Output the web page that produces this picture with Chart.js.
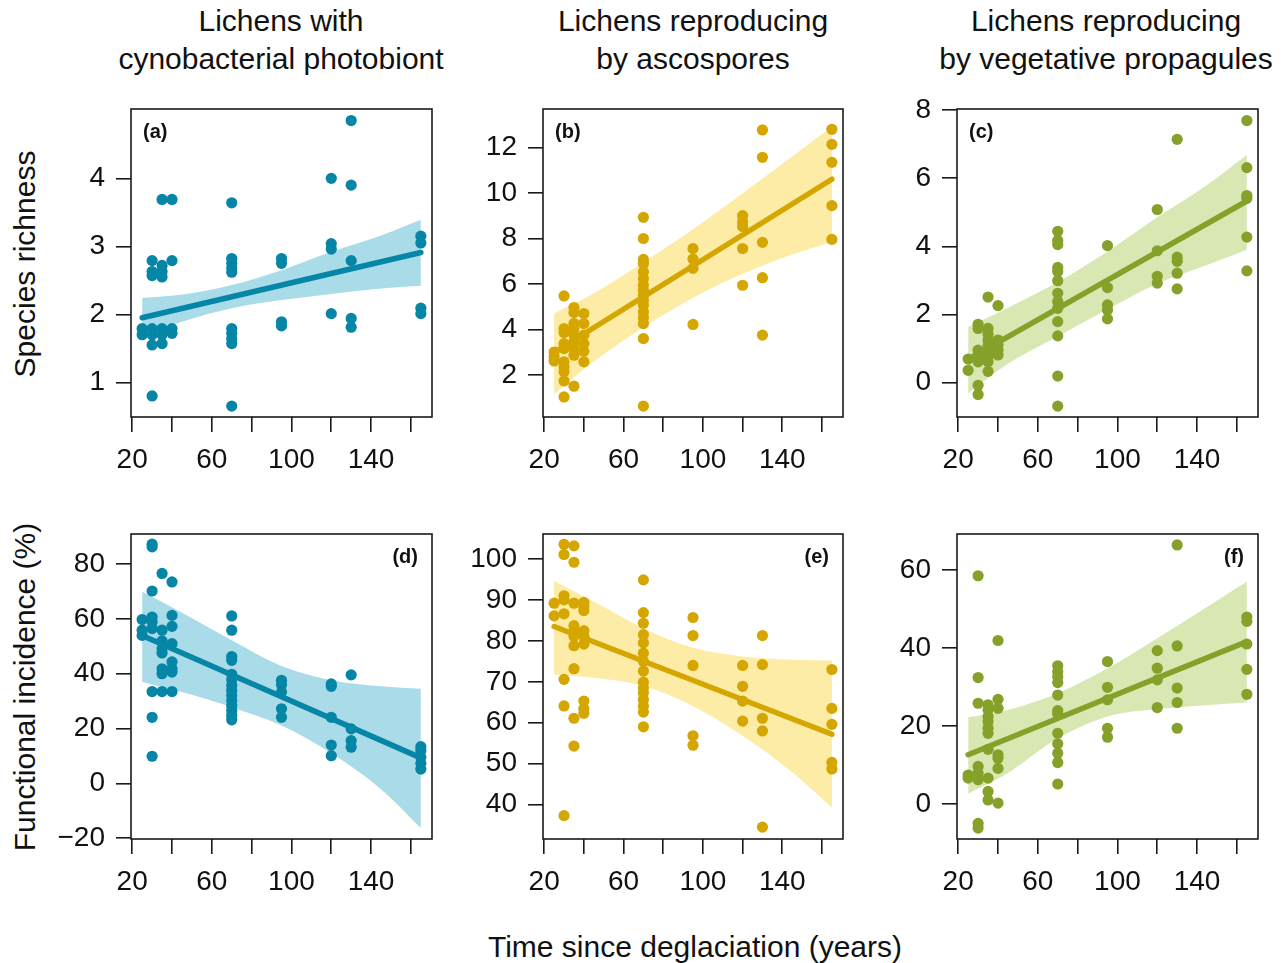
<!DOCTYPE html>
<html>
<head>
<meta charset="utf-8">
<title>Lichen traits vs time since deglaciation</title>
<script src="https://cdn.jsdelivr.net/npm/chart.js@4.4.1/dist/chart.umd.min.js"></script>
<style>
  body { margin: 0; background: #fff; font-family: "Liberation Sans", Arial, Helvetica, sans-serif; color: #111; }
  #page { position: relative; width: 1287px; height: 963px; overflow: hidden; }
  canvas.panel { position: absolute; }
  .coltitle { position: absolute; top: 2px; font-size: 30px; line-height: 38px; text-align: center; white-space: nowrap; transform: translateX(-50%); }
  .ytitle { position: absolute; font-size: 30px; line-height: 34px; white-space: nowrap; transform: translate(-50%, -50%) rotate(-90deg); }
  .xtitle { position: absolute; top: 928px; font-size: 30px; line-height: 38px; white-space: nowrap; transform: translateX(-50%); }
</style>
</head>
<body>
<div id="page">
  <div class="coltitle" style="left:281px">Lichens with<br>cynobacterial photobiont</div>
  <div class="coltitle" style="left:693px">Lichens reproducing<br>by ascospores</div>
  <div class="coltitle" style="left:1106px">Lichens reproducing<br>by vegetative propagules</div>
  <div class="ytitle" style="left:25px; top:264px">Species richness</div>
  <div class="ytitle" style="left:25px; top:687px">Functional incidence (%)</div>
  <div class="xtitle" style="left:695px">Time since deglaciation (years)</div>
</div>
<script>
// Sampling sites: time since deglaciation (years)
const sites = [25, 30, 35, 40, 70, 95, 120, 130, 165];
const xTickMarks = [20, 40, 60, 80, 100, 120, 140, 160];
const xTickLabels = [20, 60, 100, 140];
const xRange = [19.4, 170.6];
const fitX = [25, 165];
const bandX = [25, 45, 70, 95, 120, 145, 165];

// (a) species richness, cyanobacterial photobiont (values per site)
const richCyano = [
  [1.79, 1.70],
  [2.79, 2.63, 2.57, 1.79, 1.70, 1.55, 0.80],
  [3.69, 2.72, 2.63, 2.55, 1.79, 1.70, 1.57],
  [3.69, 2.79, 1.79, 1.72],
  [3.64, 2.82, 2.75, 2.68, 2.62, 1.79, 1.72, 1.64, 1.57, 0.65],
  [2.82, 2.75, 1.89, 1.83],
  [4.00, 3.04, 2.96, 2.01],
  [4.85, 3.90, 2.79, 1.94, 1.81],
  [3.15, 3.05, 2.09, 2.01]
];
const richCyanoFit = [1.95, 2.91];
const richCyanoUpper = [2.24, 2.29, 2.43, 2.65, 2.92, 3.16, 3.39];
const richCyanoLower = [1.66, 1.89, 2.09, 2.21, 2.30, 2.38, 2.42];
const richCyanoTicks = [1, 2, 3, 4];
const richCyanoRange = [0.49, 5.02];

// (b) species richness, ascospores
const richAsco = [
  [3.02, 2.81, 2.63],
  [5.48, 4.05, 3.87, 3.39, 3.17, 2.59, 2.37, 2.15, 1.75, 1.05],
  [4.97, 4.75, 4.27, 4.05, 3.76, 3.46, 3.17, 2.88, 1.52],
  [4.71, 4.27, 3.76, 3.39, 3.05, 2.59],
  [8.93, 8.00, 7.08, 6.90, 6.54, 6.25, 5.95, 5.73, 5.51, 5.29, 5.07, 4.78, 4.52, 4.27, 3.61, 0.65],
  [7.56, 7.10, 6.69, 4.23],
  [9.00, 8.73, 8.52, 7.56, 5.95],
  [12.76, 11.56, 7.83, 6.28, 3.76],
  [12.79, 12.13, 11.34, 9.44, 7.96]
];
const richAscoFit = [3.0, 10.6];
const richAscoUpper = [4.71, 5.6, 6.95, 8.4, 9.98, 11.6, 12.9];
const richAscoLower = [1.17, 2.6, 4.1, 5.4, 6.45, 7.3, 7.85];
const richAscoTicks = [2, 4, 6, 8, 10, 12];
const richAscoRange = [0.17, 13.68];

// (c) species richness, vegetative propagules
const richVeg = [
  [0.69, 0.36],
  [1.71, 1.59, 0.95, 0.81, 0.61, -0.08, -0.35],
  [2.51, 1.59, 1.42, 1.25, 1.10, 0.90, 0.76, 0.61, 0.33],
  [2.26, 1.25, 1.10, 0.95, 0.81],
  [4.44, 4.17, 4.05, 3.38, 3.26, 2.99, 2.62, 2.38, 2.18, 1.79, 1.37, 0.19, -0.69],
  [4.02, 2.79, 2.28, 2.13, 1.87],
  [5.08, 3.87, 3.12, 2.92],
  [7.14, 3.68, 3.56, 3.21, 2.75],
  [7.69, 6.31, 5.49, 5.41, 4.27, 3.28]
];
const richVegFit = [0.68, 5.33];
const richVegUpper = [1.64, 2.2, 2.95, 3.85, 4.85, 5.8, 6.68];
const richVegLower = [-0.32, 0.55, 1.35, 2.15, 2.9, 3.45, 3.9];
const richVegTicks = [0, 2, 4, 6, 8];
const richVegRange = [-1.01, 8.03];

// (d) functional incidence (%), cyanobacterial photobiont
const incCyano = [
  [59.8, 55.9, 54.0],
  [87.3, 86.3, 70.2, 60.7, 58.9, 56.5, 33.5, 24.1, 9.9],
  [76.6, 55.9, 52.0, 49.1, 47.6, 41.8, 40.0, 33.5],
  [73.5, 61.3, 57.3, 51.0, 44.3, 41.8, 40.6, 33.5],
  [61.1, 55.9, 46.3, 44.9, 39.8, 37.8, 35.7, 33.9, 32.1, 30.2, 28.4, 26.6, 24.8, 23.2],
  [37.6, 36.1, 33.3, 27.2, 24.1],
  [36.3, 35.4, 24.1, 14.0, 10.1],
  [39.6, 19.9, 15.6, 13.2],
  [13.4, 12.0, 9.5, 7.3, 5.2]
];
const incCyanoFit = [54.0, 9.3];
const incCyanoUpper = [69.9, 62.3, 52.2, 42.8, 37.6, 35.4, 34.5];
const incCyanoLower = [37.0, 33.3, 27.8, 21.1, 11.0, -2.1, -16.3];
const incCyanoTicks = [-20, 0, 20, 40, 60, 80];
const incCyanoRange = [-20.3, 91.0];

// (e) functional incidence (%), ascospores
const incAsco = [
  [89.2, 86.1],
  [103.6, 101.1, 91.0, 90.0, 86.6, 70.6, 64.1, 37.3],
  [103.2, 99.2, 89.2, 83.7, 82.3, 81.1, 78.8, 73.2, 61.1, 54.3],
  [89.4, 88.4, 87.4, 82.5, 81.1, 79.2, 65.3, 63.4, 62.3],
  [94.9, 86.9, 84.3, 81.5, 79.5, 77.0, 75.0, 72.6, 69.9, 68.5, 67.3, 65.7, 64.1, 62.6, 59.0],
  [85.7, 81.3, 74.0, 56.8, 54.5],
  [74.0, 68.9, 65.3, 60.4],
  [81.3, 74.2, 61.1, 58.0, 34.5],
  [73.0, 63.5, 59.6, 50.3, 48.7]
];
const incAscoFit = [83.5, 57.2];
const incAscoUpper = [94.6, 89.6, 83.1, 78.3, 76.2, 75.4, 75.2];
const incAscoLower = [71.8, 71.0, 69.0, 64.1, 56.8, 47.9, 39.3];
const incAscoTicks = [40, 50, 60, 70, 80, 90, 100];
const incAscoRange = [31.6, 106.1];

// (f) functional incidence (%), vegetative propagules
const incVeg = [
  [7.4, 6.6],
  [58.5, 32.4, 25.8, 9.6, 7.9, 6.2, -5.0, -6.2],
  [25.4, 24.1, 22.4, 21.1, 19.4, 18.1, 14.0, 6.6, 3.2, 1.0],
  [41.9, 26.8, 24.5, 12.6, 11.7, 9.1, 0.2],
  [35.4, 33.9, 32.6, 31.1, 27.9, 23.9, 23.1, 18.1, 15.4, 13.0, 10.6, 5.1],
  [36.5, 29.9, 26.7, 19.4, 17.1],
  [39.3, 34.8, 31.8, 24.7],
  [66.4, 40.5, 29.7, 26.0, 19.4],
  [47.9, 46.8, 41.0, 34.5, 28.1]
];
const incVegFit = [12.6, 41.6];
const incVegUpper = [22.2, 24.1, 28.4, 34.8, 42.5, 50.5, 57.0];
const incVegLower = [2.6, 7.9, 16.8, 22.4, 24.3, 25.3, 26.0];
const incVegTicks = [0, 20, 40, 60];
const incVegRange = [-9.0, 69.2];

// colours per column
const blue = { mark: "#0586a6", band: "#a9dbe8" };
const gold = { mark: "#d6a600", band: "#fdeca6" };
const green = { mark: "#85a12a", band: "#d9e8b2" };

// layout (pixels)
const colLeft = [131, 543, 957];
const colWidth = [301, 300, 301];
const rowTop = [109, 534];
const rowHeight = [308, 305];
const yAxisW = 80, xAxisH = 62, padTop = 40, padRight = 20;
const FONT = "'Liberation Sans', Arial, Helvetica, sans-serif";

const panels = [
  { tag: "(a)", col: 0, row: 0, groups: richCyano, fit: richCyanoFit, upper: richCyanoUpper, lower: richCyanoLower, ticks: richCyanoTicks, range: richCyanoRange, color: blue, side: "left" },
  { tag: "(b)", col: 1, row: 0, groups: richAsco, fit: richAscoFit, upper: richAscoUpper, lower: richAscoLower, ticks: richAscoTicks, range: richAscoRange, color: gold, side: "left" },
  { tag: "(c)", col: 2, row: 0, groups: richVeg, fit: richVegFit, upper: richVegUpper, lower: richVegLower, ticks: richVegTicks, range: richVegRange, color: green, side: "left" },
  { tag: "(d)", col: 0, row: 1, groups: incCyano, fit: incCyanoFit, upper: incCyanoUpper, lower: incCyanoLower, ticks: incCyanoTicks, range: incCyanoRange, color: blue, side: "right" },
  { tag: "(e)", col: 1, row: 1, groups: incAsco, fit: incAscoFit, upper: incAscoUpper, lower: incAscoLower, ticks: incAscoTicks, range: incAscoRange, color: gold, side: "right" },
  { tag: "(f)", col: 2, row: 1, groups: incVeg, fit: incVegFit, upper: incVegUpper, lower: incVegLower, ticks: incVegTicks, range: incVegRange, color: green, side: "right" }
];

// box round the plot area + panel letter
const boxPlugin = {
  id: "panelBox",
  afterDraw(chart, args, opts) {
    const { ctx, chartArea: a } = chart;
    ctx.save();
    ctx.strokeStyle = "#1a1a1a";
    ctx.lineWidth = 1.6;
    ctx.strokeRect(a.left, a.top, a.right - a.left, a.bottom - a.top);
    ctx.font = "bold 20px " + FONT;
    ctx.fillStyle = "#111";
    ctx.textBaseline = "middle";
    if (opts.side === "left") {
      ctx.textAlign = "left";
      ctx.fillText(opts.text, a.left + 12, a.top + 23);
    } else {
      ctx.textAlign = "right";
      ctx.fillText(opts.text, a.right - 14, a.top + 23);
    }
    ctx.restore();
  }
};

function pointsFrom(groups) {
  const pts = [];
  groups.forEach((ys, i) => ys.forEach(y => pts.push({ x: sites[i], y: y })));
  return pts;
}

function pairs(xs, ys) {
  return xs.map((x, i) => ({ x: x, y: ys[i] }));
}

function makePanel(p) {
  const page = document.getElementById("page");
  const canvas = document.createElement("canvas");
  canvas.className = "panel";
  const w = yAxisW + colWidth[p.col] + padRight;
  const h = padTop + rowHeight[p.row] + xAxisH;
  canvas.width = w;
  canvas.height = h;
  canvas.style.left = (colLeft[p.col] - yAxisW) + "px";
  canvas.style.top = (rowTop[p.row] - padTop) + "px";
  canvas.style.width = w + "px";
  canvas.style.height = h + "px";
  page.appendChild(canvas);

  const axisGrid = { drawOnChartArea: false, drawTicks: true, tickLength: 15, color: "#1a1a1a", lineWidth: 1.6 };

  new Chart(canvas.getContext("2d"), {
    type: "scatter",
    data: {
      datasets: [
        {
          label: "fit",
          data: pairs(fitX, p.fit),
          showLine: true,
          borderColor: p.color.mark,
          borderWidth: 5.5,
          borderCapStyle: "round",
          pointRadius: 0,
          fill: false,
          order: 0
        },
        {
          label: "observed",
          data: pointsFrom(p.groups),
          backgroundColor: p.color.mark,
          borderWidth: 0,
          pointRadius: 5.6,
          order: 1
        },
        {
          label: "upper",
          data: pairs(bandX, p.upper),
          showLine: true,
          borderWidth: 0,
          borderColor: "rgba(0,0,0,0)",
          pointRadius: 0,
          cubicInterpolationMode: "monotone",
          backgroundColor: p.color.band,
          fill: "+1",
          order: 2
        },
        {
          label: "lower",
          data: pairs(bandX, p.lower),
          showLine: true,
          borderWidth: 0,
          borderColor: "rgba(0,0,0,0)",
          pointRadius: 0,
          cubicInterpolationMode: "monotone",
          fill: false,
          order: 3
        }
      ]
    },
    options: {
      responsive: false,
      animation: false,
      devicePixelRatio: 1,
      events: [],
      layout: { padding: { left: 0, top: padTop, right: padRight, bottom: 0 } },
      plugins: {
        legend: { display: false },
        tooltip: { enabled: false },
        panelBox: { text: p.tag, side: p.side }
      },
      scales: {
        x: {
          type: "linear",
          min: xRange[0],
          max: xRange[1],
          afterBuildTicks: s => { s.ticks = xTickMarks.map(v => ({ value: v })); },
          afterFit: s => { s.height = xAxisH; },
          grid: axisGrid,
          border: { display: false },
          ticks: {
            color: "#111",
            font: { size: 28, family: FONT },
            padding: 11,
            maxRotation: 0,
            autoSkip: false,
            callback: v => xTickLabels.includes(v) ? String(v) : ""
          }
        },
        y: {
          type: "linear",
          min: p.range[0],
          max: p.range[1],
          afterBuildTicks: s => { s.ticks = p.ticks.map(v => ({ value: v })); },
          afterFit: s => { s.width = yAxisW; },
          grid: axisGrid,
          border: { display: false },
          ticks: {
            color: "#111",
            font: { size: 28, family: FONT },
            padding: 11,
            autoSkip: false,
            callback: v => p.ticks.includes(v) ? String(v).replace("-", "\u2212") : ""
          }
        }
      }
    },
    plugins: [boxPlugin]
  });
}

panels.forEach(makePanel);
</script>
</body>
</html>
